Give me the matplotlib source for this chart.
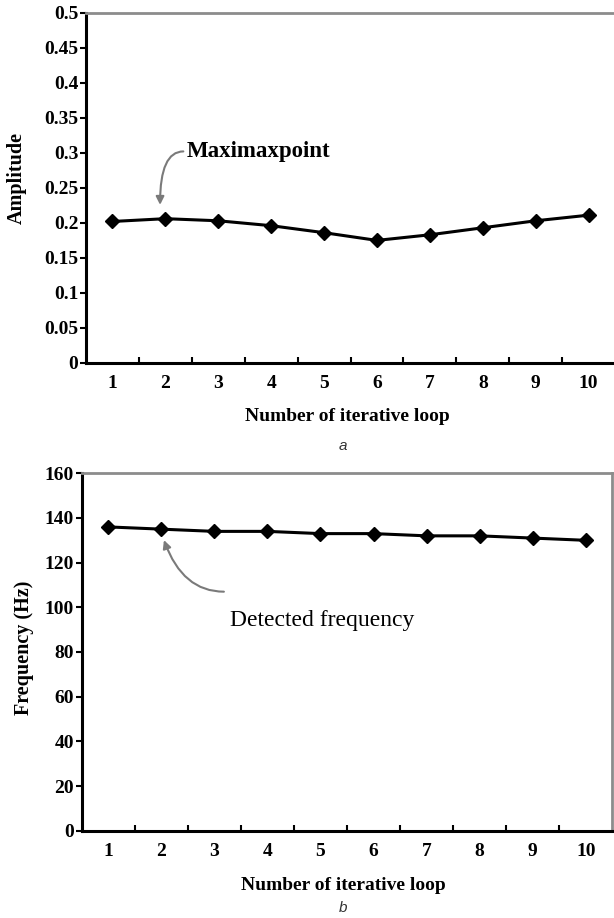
import matplotlib
matplotlib.use("Agg")
import matplotlib.pyplot as plt
import numpy as np

# ---- data ----
loops = [1, 2, 3, 4, 5, 6, 7, 8, 9, 10]
amplitude = [0.202, 0.206, 0.203, 0.196, 0.186, 0.175, 0.183, 0.193, 0.203, 0.211]
frequency = [136, 135, 134, 134, 133, 133, 132, 132, 131, 130]
amp_ticks = [0, 0.05, 0.1, 0.15, 0.2, 0.25, 0.3, 0.35, 0.4, 0.45, 0.5]
amp_ticklabels = ["0", "0.05", "0.1", "0.15", "0.2", "0.25", "0.3", "0.35", "0.4", "0.45", "0.5"]
freq_ticks = [0, 20, 40, 60, 80, 100, 120, 140, 160]
xlabel = "Number of iterative loop"
ylabel_a = "Amplitude"
ylabel_b = "Frequency (Hz)"
note_a = "Maximaxpoint"
note_b = "Detected frequency"

W, H = 614, 918
fig = plt.figure(figsize=(W / 100, H / 100), dpi=100)
serif = "Liberation Serif"

def fx(px):
    return px / W

def fy(py):
    return 1 - py / H

def style(ax, yticks, yticklabels, show_right):
    ax.set_xlim(0.5, 10.5)
    ax.set_xticks(loops)
    ax.set_xticklabels([str(v) for v in loops], fontfamily=serif, fontsize=14, fontweight="bold")
    ax.set_xticks(np.arange(1.5, 10.5, 1.0), minor=True)
    ax.tick_params(axis="x", which="major", length=0, pad=8.5)
    ax.tick_params(axis="x", which="minor", direction="in", length=4, width=1.5, color="black")
    ax.set_yticks(yticks)
    ax.set_yticklabels(yticklabels, fontfamily=serif, fontsize=14, fontweight="bold")
    ax.tick_params(axis="y", direction="out", length=4, width=1.5, pad=1.5)
    for s in ("left", "bottom"):
        ax.spines[s].set_linewidth(2.2)
        ax.spines[s].set_color("black")
    ax.spines["top"].set_linewidth(2.0)
    ax.spines["top"].set_color("#8c8c8c")
    if show_right:
        ax.spines["right"].set_linewidth(2.0)
        ax.spines["right"].set_color("#8c8c8c")
    else:
        ax.spines["right"].set_visible(False)

arrow_kw = dict(arrowstyle="-|>", color="#7a7a7a", lw=1.5, mutation_scale=12)

# ---- panel a ----
ax1 = fig.add_axes([fx(86), fy(363), fx(615 - 86), (363 - 12.7) / H])
ax1.plot(loops, amplitude, color="black", lw=2.2, marker="D", ms=7, mfc="black", mec="black")
ax1.set_ylim(0, 0.5)
style(ax1, amp_ticks, amp_ticklabels, show_right=False)
ax1.text(2.41, 0.302, note_a, fontfamily=serif, fontsize=16.5, fontweight="bold",
         va="center", ha="left")
ax1.annotate("", xy=(1.90, 0.2257), xytext=(2.34, 0.302),
             arrowprops=dict(connectionstyle="angle3,angleA=0,angleB=90",
                             shrinkA=0, shrinkB=0, **arrow_kw))

fig.text(fx(17), fy(178), ylabel_a, rotation=90, ha="center", va="center",
         fontfamily=serif, fontsize=14.5, fontweight="bold")
fig.text(fx(347), fy(416.7), xlabel, ha="center", va="center",
         fontfamily=serif, fontsize=14, fontweight="bold")
fig.text(fx(343), fy(446), "a", ha="center", va="center",
         fontfamily="Liberation Sans", fontsize=11, style="italic", color="#333333")

# ---- panel b ----
ax2 = fig.add_axes([fx(81.7), fy(830.7), fx(612.3 - 81.7), (830.7 - 473.3) / H])
ax2.plot(loops, frequency, color="black", lw=2.2, marker="D", ms=7, mfc="black", mec="black")
ax2.set_ylim(0, 160)
style(ax2, freq_ticks, [str(v) for v in freq_ticks], show_right=True)
ax2.text(3.29, 94.3, note_b, fontfamily=serif, fontsize=17, va="center", ha="left")
ax2.annotate("", xy=(2.05, 130.1), xytext=(3.18, 107.0),
             arrowprops=dict(connectionstyle="angle3,angleA=0,angleB=110",
                             shrinkA=0, shrinkB=0, **arrow_kw))

fig.text(fx(24), fy(648), ylabel_b, rotation=90, ha="center", va="center",
         fontfamily=serif, fontsize=14.5, fontweight="bold")
fig.text(fx(343), fy(885), xlabel, ha="center", va="center",
         fontfamily=serif, fontsize=14, fontweight="bold")
fig.text(fx(343), fy(908), "b", ha="center", va="center",
         fontfamily="Liberation Sans", fontsize=11, style="italic", color="#333333")

fig.savefig("out.png", dpi=100)
